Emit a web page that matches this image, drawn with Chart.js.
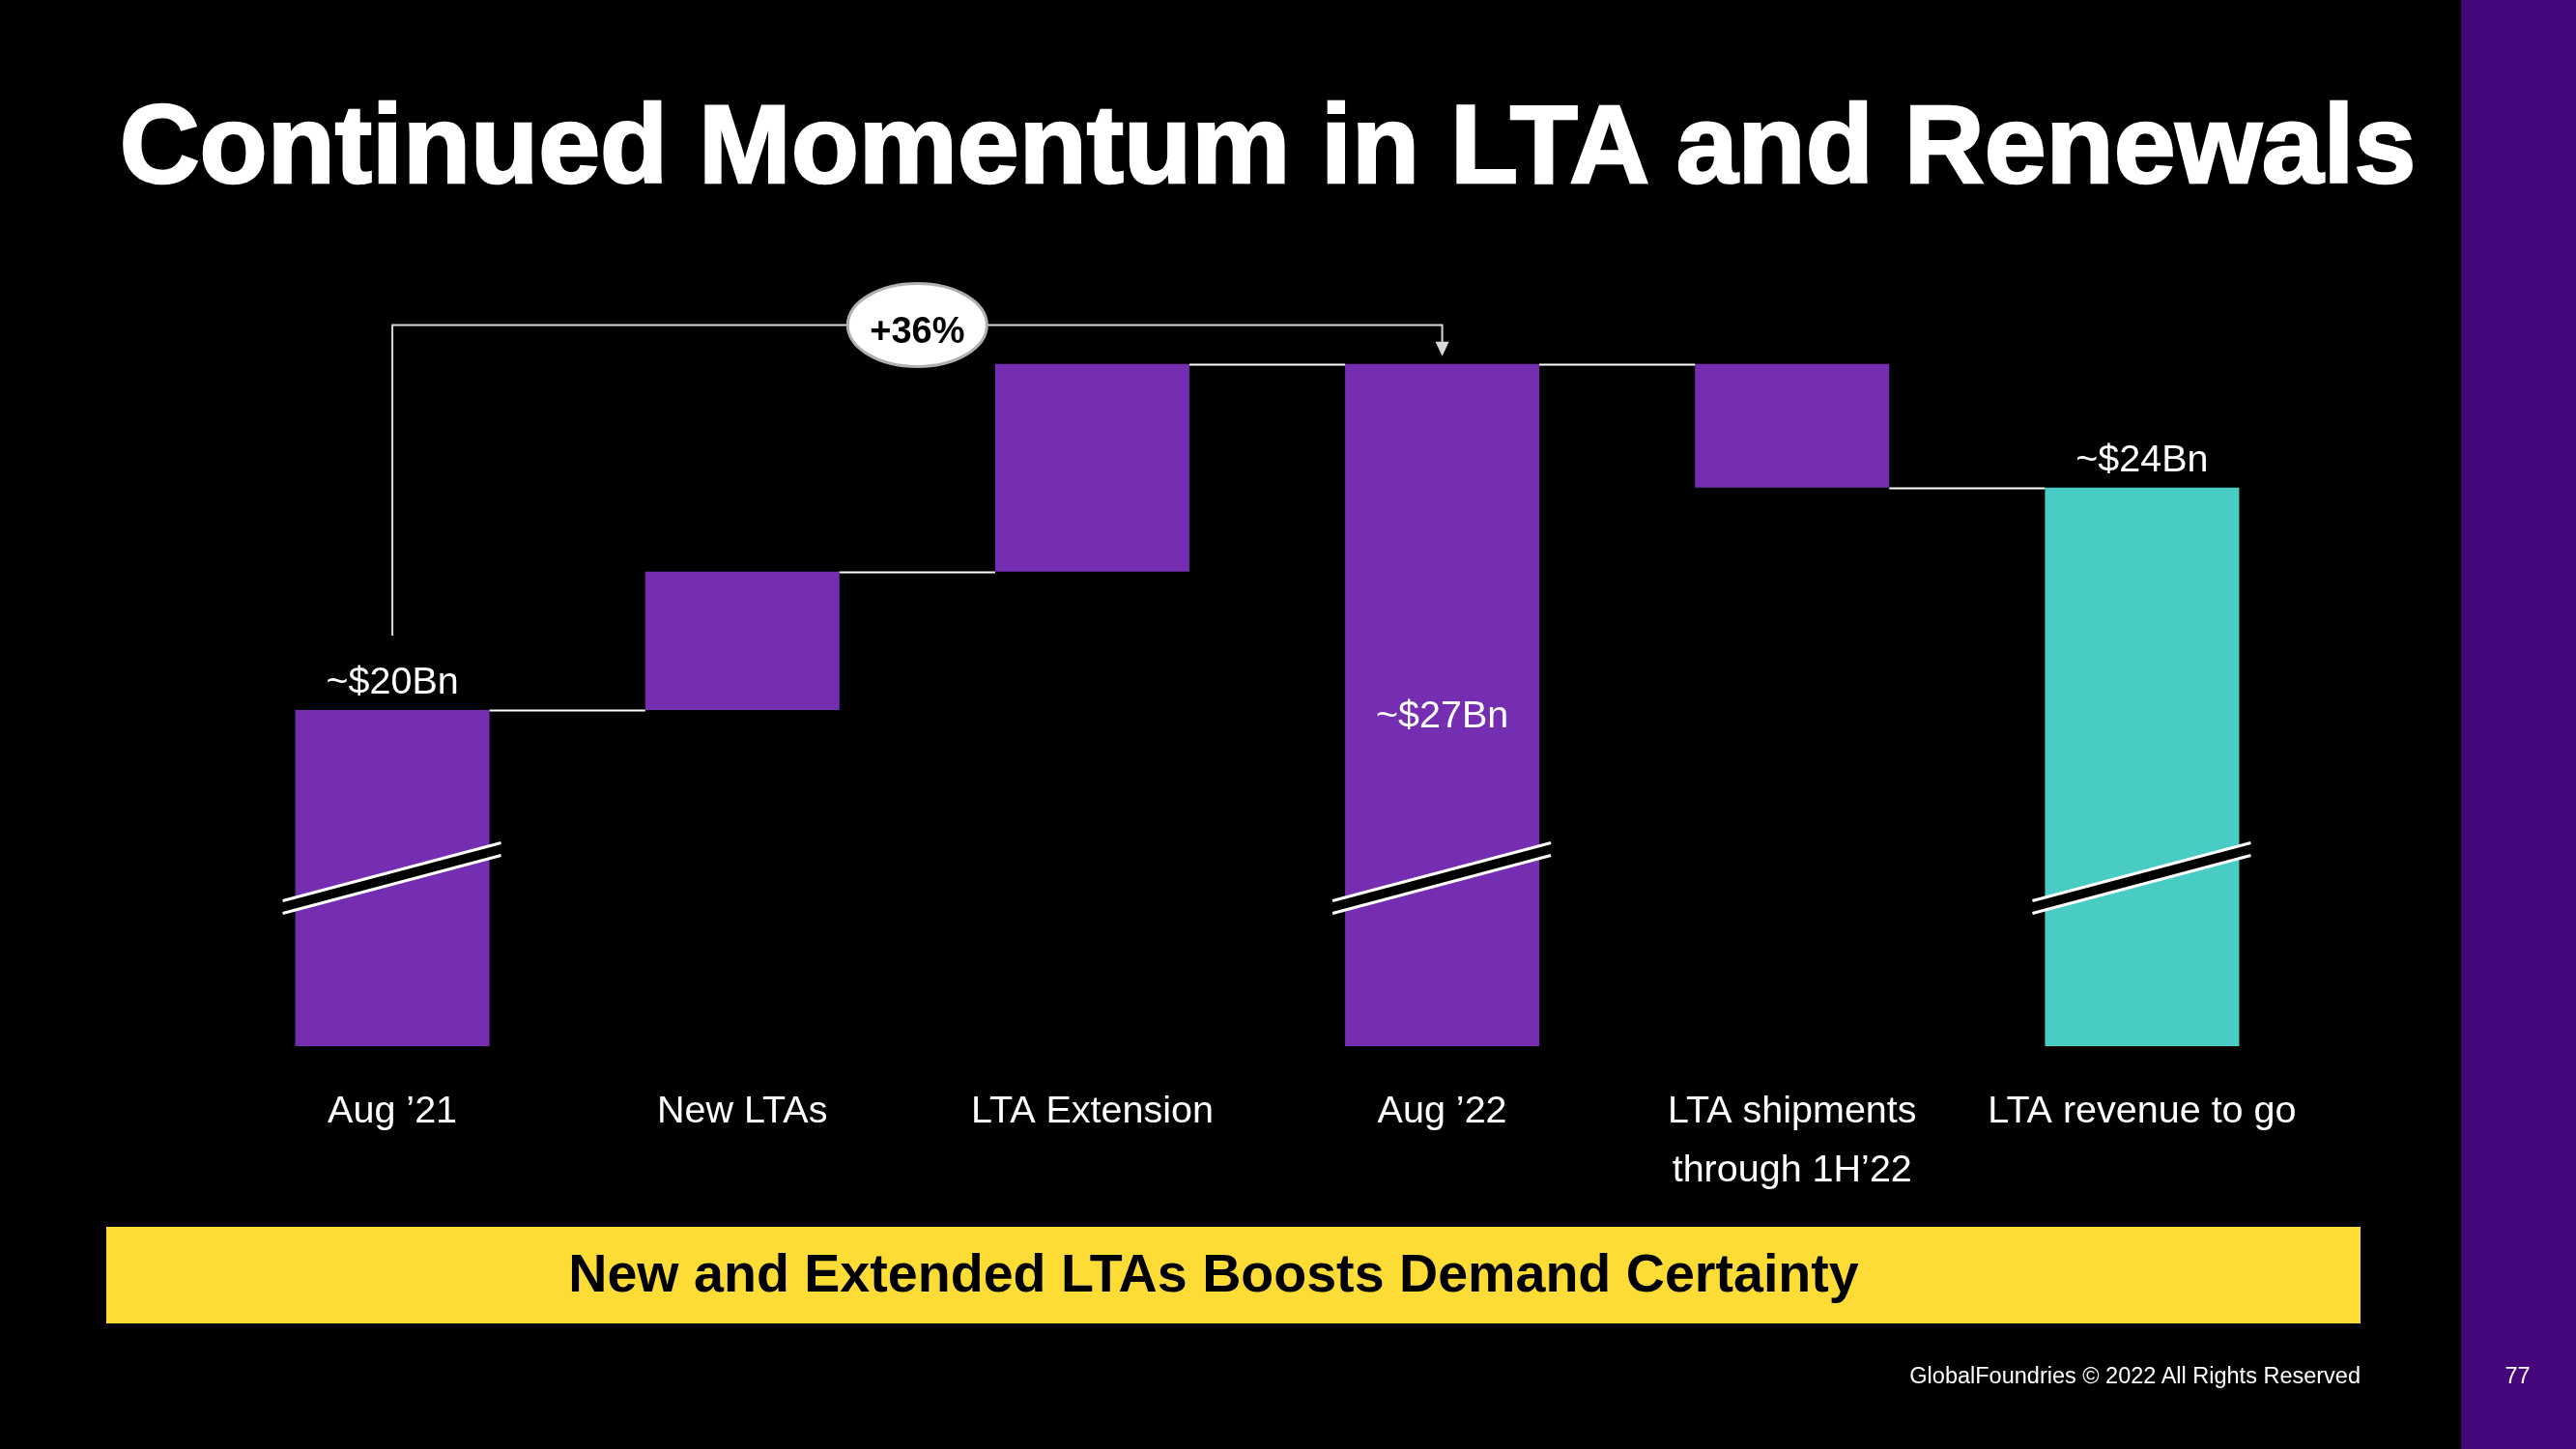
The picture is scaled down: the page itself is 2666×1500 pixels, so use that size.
<!DOCTYPE html>
<html>
<head>
<meta charset="utf-8">
<script src="https://cdn.jsdelivr.net/npm/chart.js@4.4.0/dist/chart.umd.min.js"></script>
<style>
  html, body { margin:0; padding:0; background:#000; width:2666px; height:1500px; overflow:hidden;
    font-family:"Liberation Sans", Arial, sans-serif; }
  #side { position:absolute; left:2547px; top:0; width:119px; height:1500px; background:#46077D; }
  #title { position:absolute; left:0; top:92px; width:2624px; text-align:center; color:#fff;
    font-weight:bold; font-size:114.8px; line-height:1; white-space:nowrap; -webkit-text-stroke:2.5px #fff; }
  #banner { position:absolute; left:110px; top:1270px; width:2333px; height:100px; background:#FDDC35; }
  #banner span { position:absolute; left:0; top:0; width:2292px; height:100px; text-align:center;
    line-height:96px; font-weight:bold; font-size:55.6px; color:#000; white-space:nowrap; }
  #footer { position:absolute; right:223px; top:1413px; color:#fff; font-size:23.5px; line-height:1; white-space:nowrap; }
  #page { position:absolute; left:2547px; width:117px; top:1413px; text-align:center; color:#fff; font-size:23.5px; line-height:1; }
  #wrap { position:absolute; left:0; top:0; width:2666px; height:1500px; }
</style>
</head>
<body>
<div id="side"></div>
<div id="title">Continued Momentum in LTA and Renewals</div>
<div id="wrap"><canvas id="c" width="2666" height="1500"></canvas></div>
<div id="banner"><span>New and Extended LTAs Boosts Demand Certainty</span></div>
<div id="footer">GlobalFoundries © 2022 All Rights Reserved</div>
<div id="page">77</div>
<script>
// ---- data ----
const categories = ["Aug ’21", "New LTAs", "LTA Extension", "Aug ’22", ["LTA shipments", "through 1H’22"], "LTA revenue to go"];
const stepValues = [20, 2.8, 4.2, 27, -2.5, 24.5];      // totals are absolute, others are changes ($Bn)
const isTotal    = [true, false, false, true, false, true];
const valueLabels = ["~$20Bn", "", "", "~$27Bn", "", "~$24Bn"];
const labelPlacement = ["above", "", "", "inside", "", "above"];
const growthLabel = "+36%";
const growthFrom = 0, growthTo = 3;
const axisMin = 13.2, axisMax = 28.5, breakValue = 16.6;

// ---- derived ----
const PURPLE = "#752EB2", TEAL = "#48CCC4";
const ranges = [], levels = [];
let running = 0;
stepValues.forEach((v, i) => {
  if (isTotal[i]) { ranges.push([0, v]); running = v; }
  else { const a = running, b = running + v; ranges.push([Math.min(a, b), Math.max(a, b)]); running = b; }
  levels.push(running);
});
const colors = categories.map((c, i) => i === categories.length - 1 ? TEAL : PURPLE);

const FONT = '"Liberation Sans", Arial, sans-serif';

const deco = {
  id: 'deco',
  afterDatasetsDraw(chart) {
    const ctx = chart.ctx, y = chart.scales.y, area = chart.chartArea;
    const bars = chart.getDatasetMeta(0).data;
    ctx.save();
    // connectors
    ctx.strokeStyle = "#ffffff"; ctx.lineWidth = 2;
    for (let i = 0; i < bars.length - 1; i++) {
      const py = Math.round(y.getPixelForValue(levels[i])) + 0.5;
      ctx.beginPath();
      ctx.moveTo(bars[i].x + bars[i].width / 2, py);
      ctx.lineTo(bars[i + 1].x - bars[i + 1].width / 2, py);
      ctx.stroke();
    }
    // axis breaks on total bars
    bars.forEach((b, i) => {
      if (!isTotal[i]) return;
      const L = b.x - b.width / 2 - 13, R = b.x + b.width / 2 + 12;
      const yc = y.getPixelForValue(breakValue);
      const drop = 0.2655 * (R - L), g = 6.5;
      ctx.fillStyle = "#000";
      ctx.beginPath();
      ctx.moveTo(L, yc + drop / 2 - g); ctx.lineTo(R, yc - drop / 2 - g);
      ctx.lineTo(R, yc - drop / 2 + g); ctx.lineTo(L, yc + drop / 2 + g);
      ctx.closePath(); ctx.fill();
      ctx.strokeStyle = "#fff"; ctx.lineWidth = 3;
      [-g, g].forEach(o => {
        ctx.beginPath();
        ctx.moveTo(L, yc + drop / 2 + o); ctx.lineTo(R, yc - drop / 2 + o); ctx.stroke();
      });
    });
    // value labels
    ctx.fillStyle = "#fff"; ctx.font = "39.5px " + FONT; ctx.textAlign = "center"; ctx.textBaseline = "alphabetic";
    bars.forEach((b, i) => {
      if (!valueLabels[i]) return;
      const top = y.getPixelForValue(levels[i]);
      let by;
      if (labelPlacement[i] === "inside") by = (top + area.bottom) / 2 + 23;
      else by = top - 17;
      ctx.fillText(valueLabels[i], b.x, by);
    });
    // growth bracket
    const b0 = bars[growthFrom], b1 = bars[growthTo];
    const y0 = y.getPixelForValue(levels[growthFrom]), y1 = y.getPixelForValue(levels[growthTo]);
    const yTop = Math.round(y1 - 41) + 0.5;
    ctx.strokeStyle = "#d9d9d9"; ctx.lineWidth = 2;
    ctx.beginPath();
    ctx.moveTo(b0.x, y0 - 77); ctx.lineTo(b0.x, yTop); ctx.lineTo(b1.x, yTop); ctx.lineTo(b1.x, y1 - 20);
    ctx.stroke();
    ctx.fillStyle = "#d9d9d9";
    ctx.beginPath();
    ctx.moveTo(b1.x - 7, y1 - 23); ctx.lineTo(b1.x + 7, y1 - 23); ctx.lineTo(b1.x, y1 - 8); ctx.closePath(); ctx.fill();
    // ellipse badge
    const ex = (b0.x + b1.x) / 2;
    ctx.fillStyle = "#fff"; ctx.strokeStyle = "#b0b0b0"; ctx.lineWidth = 3;
    ctx.beginPath(); ctx.ellipse(ex, yTop, 72, 43, 0, 0, Math.PI * 2); ctx.fill(); ctx.stroke();
    ctx.fillStyle = "#000"; ctx.font = "bold 38px " + FONT;
    ctx.fillText(growthLabel, ex, yTop + 18);
    ctx.restore();
  }
};

new Chart(document.getElementById('c'), {
  type: 'bar',
  data: {
    labels: categories,
    datasets: [{
      data: ranges,
      backgroundColor: colors,
      borderWidth: 0,
      categoryPercentage: 1,
      barPercentage: 0.555,
      clip: 0
    }]
  },
  options: {
    responsive: false,
    devicePixelRatio: 1,
    animation: false,
    layout: { padding: { left: 225, right: 268, top: 300, bottom: 267 } },
    plugins: { legend: { display: false }, tooltip: { enabled: false }, title: { display: false } },
    scales: {
      x: {
        grid: { display: false, drawTicks: false },
        border: { display: false },
        ticks: { color: "#ffffff", font: { family: FONT, size: 39.5, lineHeight: 1.55 }, padding: 37, maxRotation: 0, autoSkip: false },
        afterFit(scale) { scale.height = 150; }
      },
      y: { display: false, min: axisMin, max: axisMax }
    }
  },
  plugins: [deco]
});
</script>
</body>
</html>
